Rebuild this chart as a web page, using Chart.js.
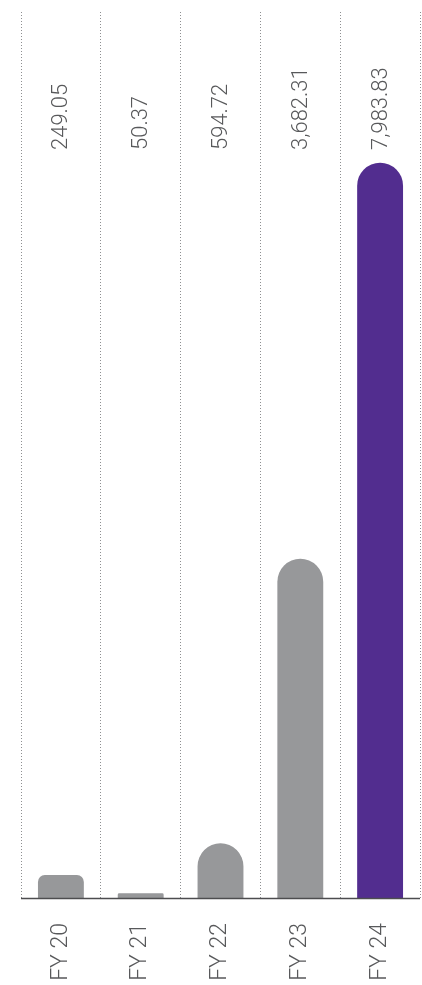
<!DOCTYPE html>
<html>
<head>
<meta charset="utf-8">
<script src="https://cdn.jsdelivr.net/npm/chart.js@4/dist/chart.umd.min.js"></script>
<style>
  html, body { margin: 0; padding: 0; background: #fff; }
  #wrap { width: 422px; height: 985px; position: relative; }
</style>
</head>
<body>
<div id="wrap"><canvas id="myChart"></canvas></div>
<script>
"use strict";

// data
const years = ["FY 20", "FY 21", "FY 22", "FY 23", "FY 24"];
const values = [249.05, 50.37, 594.72, 3682.31, 7983.83];
const barColors = ["#97989a", "#97989a", "#97989a", "#97989a", "#522d8f"];

const textColor = "#58595b";
const fontFamily = "Roboto, 'Liberation Sans', Arial, sans-serif";

function formatValue(v) {
  return v.toLocaleString("en-US", { minimumFractionDigits: 2, maximumFractionDigits: 2 });
}

// value labels written sideways above each bar
const valueLabels = {
  id: "valueLabels",
  afterDatasetsDraw(chart) {
    const ctx = chart.ctx;
    const meta = chart.getDatasetMeta(0);
    ctx.save();
    ctx.fillStyle = textColor;
    ctx.font = "300 22px " + fontFamily;
    ctx.textAlign = "left";
    ctx.textBaseline = "middle";
    meta.data.forEach(function (bar, i) {
      ctx.save();
      ctx.translate(bar.x, chart.chartArea.top + 138);
      ctx.rotate(-Math.PI / 2);
      ctx.fillText(formatValue(values[i]), 0, 1);
      ctx.restore();
    });
    ctx.restore();
  },
};

// solid baseline (the axis border would pick up the grid dash)
const baseline = {
  id: "baseline",
  afterDatasetsDraw(chart) {
    const ctx = chart.ctx;
    const a = chart.chartArea;
    ctx.save();
    ctx.strokeStyle = "#4d4d4f";
    ctx.lineWidth = 1.5;
    ctx.beginPath();
    ctx.moveTo(a.left, a.bottom + 0.5);
    ctx.lineTo(a.right, a.bottom + 0.5);
    ctx.stroke();
    ctx.restore();
  },
};

const data = {
  labels: years,
  datasets: [
    {
      data: values,
      backgroundColor: barColors,
      categoryPercentage: 1,
      barPercentage: 0.575,
      borderSkipped: "start",
      borderRadius: function (c) {
        const y = c.chart.scales.y;
        if (!y || c.raw === undefined) return 23;
        const h = y.getPixelForValue(0) - y.getPixelForValue(c.raw);
        return h < 30 ? h * 0.3 : 23;
      },
    },
  ],
};

const config = {
  type: "bar",
  data: data,
  plugins: [valueLabels, baseline],
  options: {
    responsive: true,
    maintainAspectRatio: false,
    animation: false,
    layout: { padding: { top: 12, left: 21, right: 2, bottom: 0 } },
    plugins: {
      legend: { display: false },
      tooltip: { enabled: false },
    },
    scales: {
      x: {
        afterFit: function (scale) {
          scale.height = 87;
          scale.paddingLeft = 0;
          scale.paddingRight = 0;
        },
        grid: {
          offset: true,
          color: "#8e8f91",
          lineWidth: 1,
          drawTicks: false,
        },
        border: { display: false, dash: [1, 2] },
        ticks: {
          color: textColor,
          font: { family: fontFamily, size: 23, weight: "300" },
          minRotation: 90,
          maxRotation: 90,
          padding: 25,
        },
      },
      y: {
        display: false,
        min: 0,
        max: 9620,
      },
    },
  },
};

const canvasChart = document.getElementById("myChart");
new Chart(canvasChart, config);
</script>
</body>
</html>
